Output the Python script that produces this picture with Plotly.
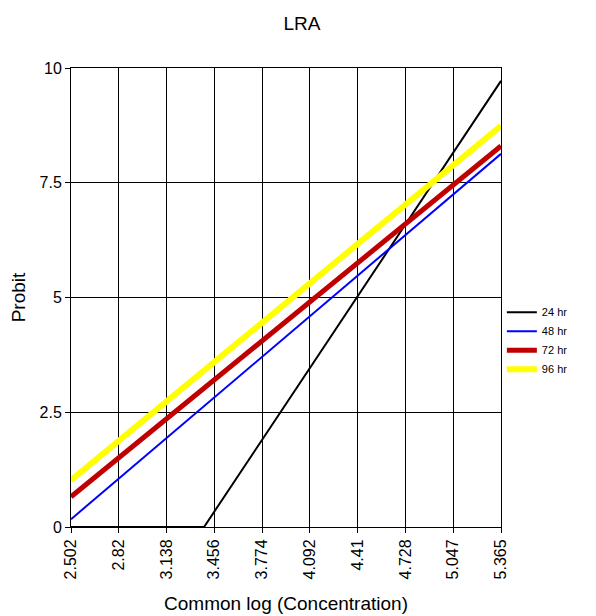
import plotly.graph_objects as go

x_ticks = [2.502, 2.82, 3.138, 3.456, 3.774, 4.092, 4.41, 4.728, 5.047, 5.365]
x_tick_labels = ["2.502", "2.82", "3.138", "3.456", "3.774", "4.092", "4.41", "4.728", "5.047", "5.365"]
y_ticks = [0, 2.5, 5, 7.5, 10]
y_tick_labels = ["0", "2.5", "5", "7.5", "10"]

x_24 = [2.502, 3.388, 5.365]
y_24 = [0.0, 0.0, 9.72]
x_48 = [2.502, 5.365]
y_48 = [0.17, 8.13]
x_72 = [2.502, 5.365]
y_72 = [0.66, 8.30]
x_96 = [2.502, 5.365]
y_96 = [1.02, 8.74]

series = [
    ("24 hr", x_24, y_24, "#000000", 2),
    ("48 hr", x_48, y_48, "#0000ff", 2),
    ("72 hr", x_72, y_72, "#c00000", 5),
    ("96 hr", x_96, y_96, "#ffff00", 6),
]

fig = go.Figure()
for name, xs, ys, color, w in series:
    fig.add_trace(go.Scatter(x=xs, y=ys, mode="lines", name=name,
                             line=dict(color=color, width=w)))

font_family = "Liberation Sans, Arial, sans-serif"
fig.update_layout(
    width=588, height=608,
    margin=dict(l=63, r=95, t=60, b=89),
    paper_bgcolor="white", plot_bgcolor="white",
    font=dict(family=font_family, color="#000000", size=16),
    title=dict(text="LRA", x=0.5, xanchor="center", y=0.975, yanchor="middle",
               font=dict(size=19, family=font_family)),
    showlegend=True,
    legend=dict(x=1.002, xanchor="left", y=0.406, yanchor="middle",
                font=dict(size=11, family=font_family),
                bgcolor="rgba(0,0,0,0)", tracegroupgap=0),
)
fig.update_xaxes(
    range=[2.502, 5.365], tickmode="array", tickvals=x_ticks, ticktext=x_tick_labels,
    tickangle=-90, showgrid=True, gridcolor="#000000", gridwidth=1,
    showline=True, linecolor="#000000", linewidth=1, mirror=True,
    ticks="outside", ticklen=5, tickcolor="#000000",
    zeroline=False, tickfont=dict(size=16), automargin=False,
    title=dict(text="Common log (Concentration)", font=dict(size=19), standoff=18),
)
fig.update_yaxes(
    range=[0, 10], tickmode="array", tickvals=y_ticks, ticktext=y_tick_labels,
    showgrid=True, gridcolor="#000000", gridwidth=1,
    showline=True, linecolor="#000000", linewidth=1, mirror=True,
    ticks="outside", ticklen=5, tickcolor="#000000",
    zeroline=False, tickfont=dict(size=16), automargin=False,
    title=dict(text="Probit", font=dict(size=19), standoff=8),
)
fig.write_html("out.html")
